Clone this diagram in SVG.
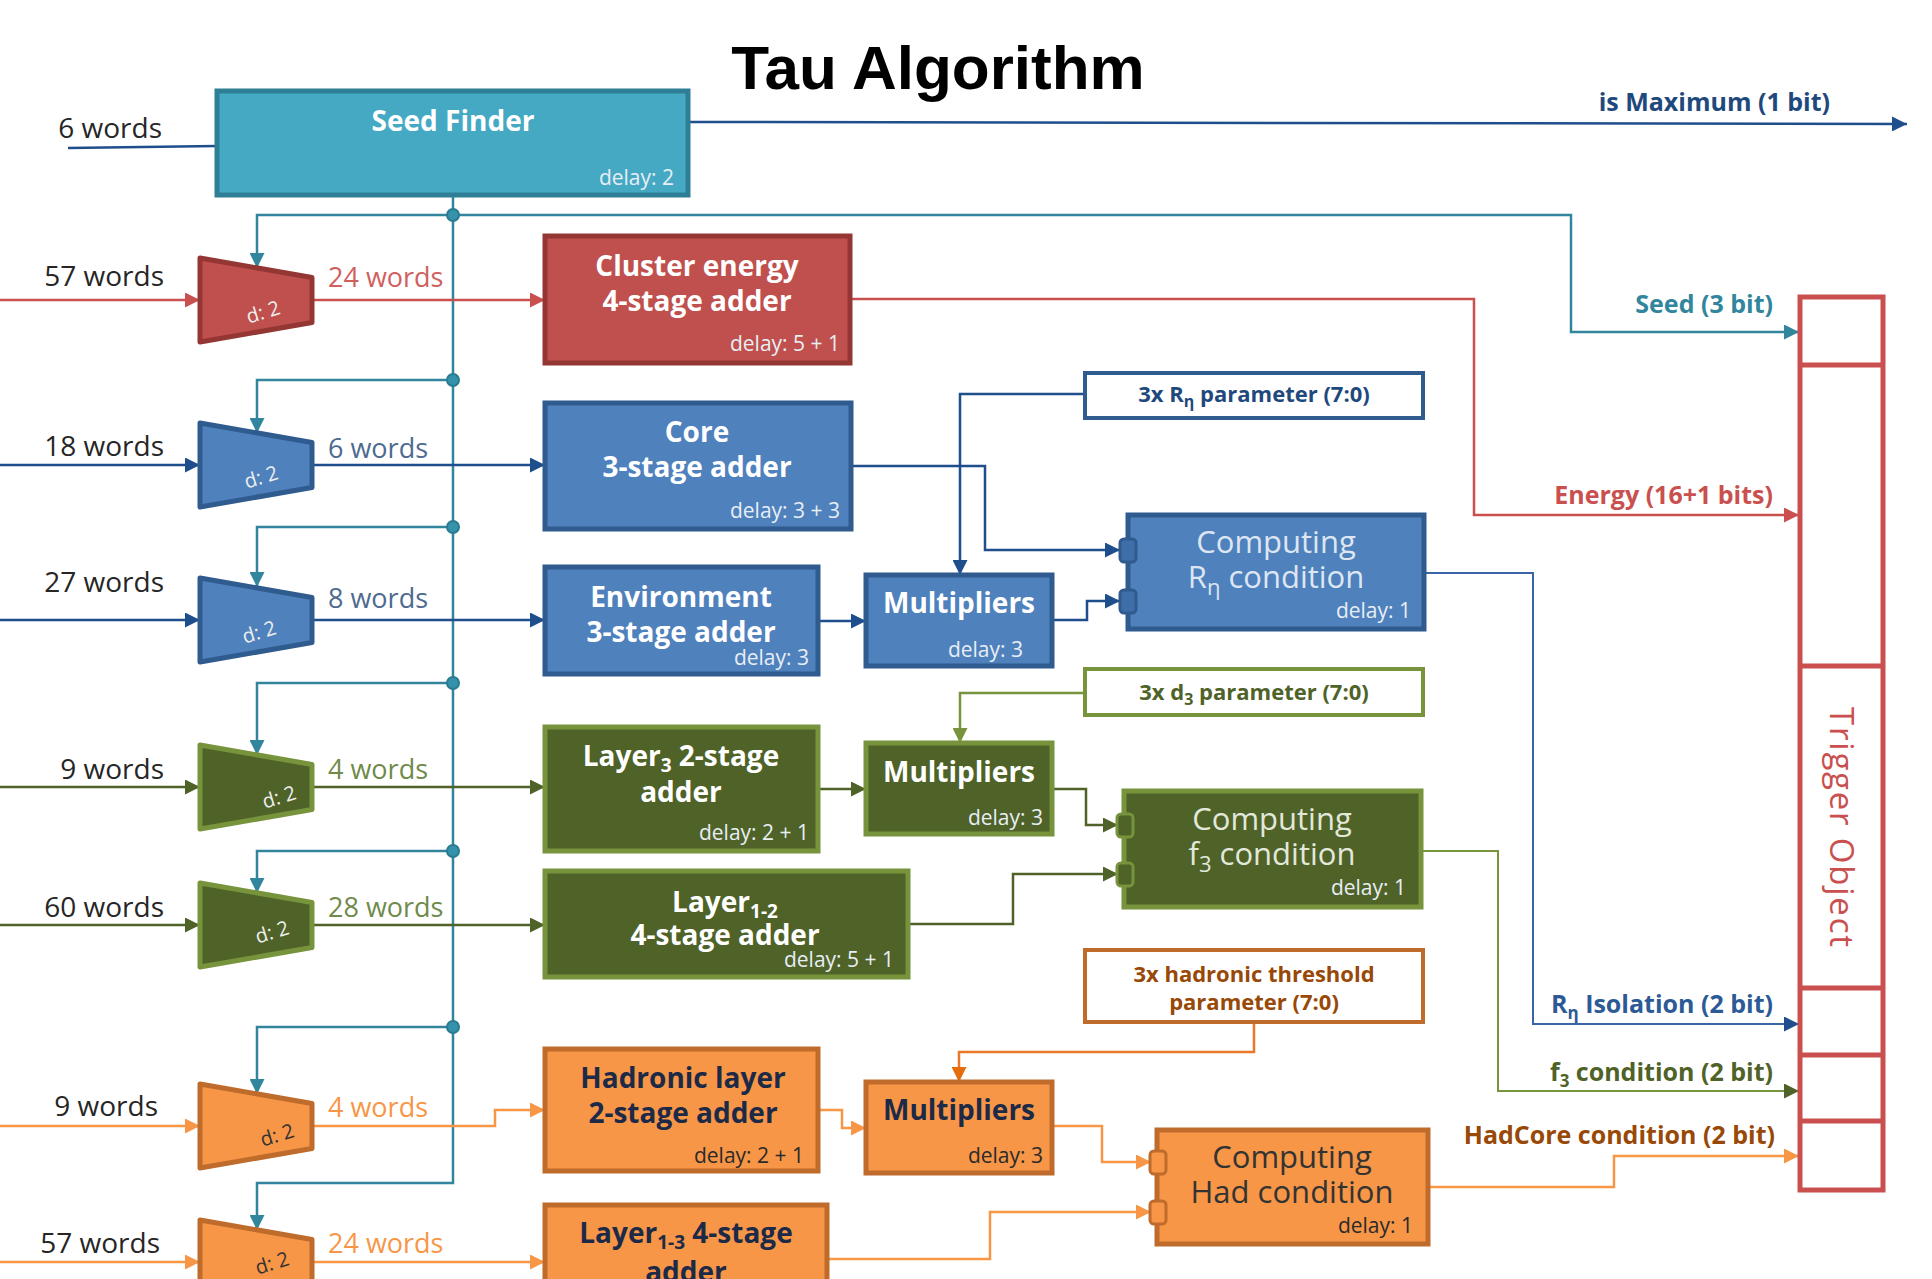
<svg xmlns="http://www.w3.org/2000/svg" width="1932" height="1279" viewBox="0 0 1932 1279">
  <style>
    text { font-family: "Open Sans", "Liberation Sans", sans-serif; }
    .title { font-family: "Liberation Sans", Arial, sans-serif; font-weight: bold; font-size: 62px; fill: #000; }
    .in { font-size: 28px; fill: #262626; text-anchor: end; }
    .mid { font-size: 27px; }
    .hd { font-size: 28px; font-weight: bold; fill: #fff; text-anchor: middle; }
    .hd-dk { fill: #1c2a48; }
    .dl { font-size: 21px; fill: #e8eef5; text-anchor: end; }
    .dl-dk { fill: #2a2a2a; }
    .cmp { font-size: 31px; text-anchor: middle; }
    .prm { font-size: 22px; font-weight: bold; text-anchor: middle; }
    .out { font-size: 25px; font-weight: bold; text-anchor: end; }
    .dd { font-size: 20px; text-anchor: middle; }
    .box { stroke-width: 5; }
    .ln { fill: none; stroke-width: 2.5; }
    .thin { fill: none; stroke-width: 2; }
    .teal { stroke: #31859c; }
    .red { stroke: #c9504f; }
    .blue { stroke: #1f4e8c; }
    .lblue { stroke: #3a64a8; }
    .green { stroke: #4f6228; }
    .lgreen { stroke: #77933c; }
    .orange { stroke: #f79646; }
    .had { stroke: #e8782a; }
    .dot { fill: #3592ab; stroke: #2a7a90; stroke-width: 2; }
    .port { stroke-width: 3; }
  </style>
  <defs>
    <marker id="a-teal" viewBox="0 0 10 10" refX="10" refY="5" markerWidth="15" markerHeight="15" markerUnits="userSpaceOnUse" orient="auto"><path d="M0,0 L10,5 L0,10 z" fill="#31859c"/></marker>
    <marker id="a-red" viewBox="0 0 10 10" refX="10" refY="5" markerWidth="15" markerHeight="15" markerUnits="userSpaceOnUse" orient="auto"><path d="M0,0 L10,5 L0,10 z" fill="#c9504f"/></marker>
    <marker id="a-blue" viewBox="0 0 10 10" refX="10" refY="5" markerWidth="15" markerHeight="15" markerUnits="userSpaceOnUse" orient="auto"><path d="M0,0 L10,5 L0,10 z" fill="#1f4e8c"/></marker>
    <marker id="a-green" viewBox="0 0 10 10" refX="10" refY="5" markerWidth="15" markerHeight="15" markerUnits="userSpaceOnUse" orient="auto"><path d="M0,0 L10,5 L0,10 z" fill="#4f6228"/></marker>
    <marker id="a-lgreen" viewBox="0 0 10 10" refX="10" refY="5" markerWidth="15" markerHeight="15" markerUnits="userSpaceOnUse" orient="auto"><path d="M0,0 L10,5 L0,10 z" fill="#77933c"/></marker>
    <marker id="a-orange" viewBox="0 0 10 10" refX="10" refY="5" markerWidth="15" markerHeight="15" markerUnits="userSpaceOnUse" orient="auto"><path d="M0,0 L10,5 L0,10 z" fill="#f79646"/></marker>
    <marker id="a-had" viewBox="0 0 10 10" refX="10" refY="5" markerWidth="15" markerHeight="15" markerUnits="userSpaceOnUse" orient="auto"><path d="M0,0 L10,5 L0,10 z" fill="#e46c0a"/></marker>
  </defs>

  <rect width="1932" height="1279" fill="#fff"/>

  <text class="title" x="938" y="89" text-anchor="middle">Tau Algorithm</text>

  <!-- connectors -->
  <g id="connectors">
    <!-- seed finder distribution bus -->
    <path class="ln teal" d="M453,195 V1183 H257 V1230" marker-end="url(#a-teal)"/>
    <path class="ln teal" d="M453,215 H257 V268" marker-end="url(#a-teal)"/>
    <path class="ln teal" d="M453,215 H1571 V332 H1799" marker-end="url(#a-teal)"/>
    <path class="ln teal" d="M453,380 H257 V433" marker-end="url(#a-teal)"/>
    <path class="ln teal" d="M453,527 H257 V587" marker-end="url(#a-teal)"/>
    <path class="ln teal" d="M453,683 H257 V755" marker-end="url(#a-teal)"/>
    <path class="ln teal" d="M453,851 H257 V893" marker-end="url(#a-teal)"/>
    <path class="ln teal" d="M453,1027 H257 V1094" marker-end="url(#a-teal)"/>
    <circle class="dot" cx="453" cy="215" r="6"/>
    <circle class="dot" cx="453" cy="380" r="6"/>
    <circle class="dot" cx="453" cy="527" r="6"/>
    <circle class="dot" cx="453" cy="683" r="6"/>
    <circle class="dot" cx="453" cy="851" r="6"/>
    <circle class="dot" cx="453" cy="1027" r="6"/>

    <!-- seed finder in / out -->
    <path class="ln blue" d="M68,148 L217,146"/>
    <path class="ln blue" d="M688,122 L1907,124" marker-end="url(#a-blue)"/>

    <!-- cluster energy path -->
    <path class="ln red" d="M0,300 H200" marker-end="url(#a-red)"/>
    <path class="ln red" d="M312,300 H545" marker-end="url(#a-red)"/>
    <path class="ln red" d="M850,299 H1474 V515 H1799" marker-end="url(#a-red)"/>

    <!-- core / environment path -->
    <path class="ln blue" d="M0,465 H200" marker-end="url(#a-blue)"/>
    <path class="ln blue" d="M312,465 H545" marker-end="url(#a-blue)"/>
    <path class="ln blue" d="M0,620 H200" marker-end="url(#a-blue)"/>
    <path class="ln blue" d="M312,620 H545" marker-end="url(#a-blue)"/>
    <path class="ln blue" d="M851,466 H985 V550 H1120" marker-end="url(#a-blue)"/>
    <path class="ln blue" d="M818,621 H866" marker-end="url(#a-blue)"/>
    <path class="ln blue" d="M1085,394 H960 V575" marker-end="url(#a-blue)"/>
    <path class="ln blue" d="M1052,620 H1087 V601 H1120" marker-end="url(#a-blue)"/>
    <path class="thin lblue" d="M1424,573 H1533 V1024 H1799" marker-end="url(#a-blue)"/>

    <!-- layer 3 / layer 1-2 path -->
    <path class="ln green" d="M0,787 H200" marker-end="url(#a-green)"/>
    <path class="ln green" d="M312,787 H545" marker-end="url(#a-green)"/>
    <path class="ln green" d="M0,925 H200" marker-end="url(#a-green)"/>
    <path class="ln green" d="M312,925 H545" marker-end="url(#a-green)"/>
    <path class="ln green" d="M818,789 H866" marker-end="url(#a-green)"/>
    <path class="ln lgreen" d="M1085,693 H960 V743" marker-end="url(#a-lgreen)"/>
    <path class="ln green" d="M1052,789 H1086 V825 H1118" marker-end="url(#a-green)"/>
    <path class="ln green" d="M908,924 H1013 V874 H1118" marker-end="url(#a-green)"/>
    <path class="thin lgreen" d="M1421,851 H1498 V1091 H1799" marker-end="url(#a-green)"/>

    <!-- hadronic path -->
    <path class="ln orange" d="M0,1126 H200" marker-end="url(#a-orange)"/>
    <path class="ln orange" d="M312,1126 H495 V1110 H545" marker-end="url(#a-orange)"/>
    <path class="ln orange" d="M0,1262 H200" marker-end="url(#a-orange)"/>
    <path class="ln orange" d="M312,1262 H545" marker-end="url(#a-orange)"/>
    <path class="ln orange" d="M818,1110 H842 V1128 H866" marker-end="url(#a-orange)"/>
    <path class="ln had" d="M1254,1022 V1052 H959 V1082" marker-end="url(#a-had)"/>
    <path class="ln orange" d="M1052,1126 H1102 V1162 H1151" marker-end="url(#a-orange)"/>
    <path class="ln orange" d="M827,1259 H990 V1212 H1151" marker-end="url(#a-orange)"/>
    <path class="ln orange" d="M1428,1187 H1614 V1156 H1799" marker-end="url(#a-orange)"/>
  </g>

  <!-- input widths -->
  <g id="input-labels">
    <text class="in" x="162" y="138">6 words</text>
    <text class="in" x="164" y="286">57 words</text>
    <text class="in" x="164" y="456">18 words</text>
    <text class="in" x="164" y="592">27 words</text>
    <text class="in" x="164" y="779">9 words</text>
    <text class="in" x="164" y="917">60 words</text>
    <text class="in" x="158" y="1116">9 words</text>
    <text class="in" x="160" y="1253">57 words</text>
  </g>

  <!-- reduced widths after the selectors -->
  <g id="mid-labels">
    <text class="mid" x="328" y="287" fill="#d0605e">24 words</text>
    <text class="mid" x="328" y="458" fill="#4d6a90">6 words</text>
    <text class="mid" x="328" y="608" fill="#4d6a90">8 words</text>
    <text class="mid" x="328" y="779" fill="#6f8a4a">4 words</text>
    <text class="mid" x="328" y="917" fill="#6f8a4a">28 words</text>
    <text class="mid" x="328" y="1117" fill="#f79646">4 words</text>
    <text class="mid" x="328" y="1253" fill="#f79646">24 words</text>
  </g>

  <!-- output field labels -->
  <g id="output-labels">
    <text class="out" x="1830" y="111" fill="#1f497d">is Maximum (1 bit)</text>
    <text class="out" x="1773" y="313" fill="#31859c">Seed (3 bit)</text>
    <text class="out" x="1773" y="504" fill="#c9504f">Energy (16+1 bits)</text>
    <text class="out" x="1773" y="1013" fill="#2c5a96">R<tspan font-size="17" dy="6">η</tspan><tspan dy="-6"> Isolation (2 bit)</tspan></text>
    <text class="out" x="1773" y="1081" fill="#4f6228">f<tspan font-size="17" dy="6">3</tspan><tspan dy="-6"> condition (2 bit)</tspan></text>
    <text class="out" x="1775" y="1144" fill="#984807">HadCore condition (2 bit)</text>
  </g>

  <!-- seed finder -->
  <g id="seed-finder">
    <rect class="box" x="217" y="91" width="471" height="104" fill="#45a9c4" stroke="#2e7f96"/>
    <text class="hd" x="453" y="131">Seed Finder</text>
    <text class="dl" x="674" y="185">delay: 2</text>
  </g>

  <!-- word selectors -->
  <g id="sel-cluster">
    <path class="box" d="M200,258 L312,277.5 L312,322.5 L200,342 Z" fill="#c0504d" stroke="#943634" stroke-linejoin="round"/>
    <text class="dd" x="263" y="319" fill="#eee" transform="rotate(-17 263 312)">d: 2</text>
  </g>
  <g id="sel-core">
    <path class="box" d="M200,423 L312,442.5 L312,487.5 L200,507 Z" fill="#4f81bd" stroke="#2f5b8e" stroke-linejoin="round"/>
    <text class="dd" x="261" y="484" fill="#eee" transform="rotate(-17 261 477)">d: 2</text>
  </g>
  <g id="sel-env">
    <path class="box" d="M200,578 L312,597.5 L312,642.5 L200,662 Z" fill="#4f81bd" stroke="#2f5b8e" stroke-linejoin="round"/>
    <text class="dd" x="259" y="639" fill="#eee" transform="rotate(-17 259 632)">d: 2</text>
  </g>
  <g id="sel-layer3">
    <path class="box" d="M200,745 L312,764.5 L312,809.5 L200,829 Z" fill="#4f6228" stroke="#77933c" stroke-linejoin="round"/>
    <text class="dd" x="279" y="804" fill="#eee" transform="rotate(-17 279 797)">d: 2</text>
  </g>
  <g id="sel-layer12">
    <path class="box" d="M200,883 L312,902.5 L312,947.5 L200,967 Z" fill="#4f6228" stroke="#77933c" stroke-linejoin="round"/>
    <text class="dd" x="272" y="939" fill="#eee" transform="rotate(-17 272 932)">d: 2</text>
  </g>
  <g id="sel-had">
    <path class="box" d="M200,1084 L312,1103.5 L312,1148.5 L200,1168 Z" fill="#f79646" stroke="#be6b2c" stroke-linejoin="round"/>
    <text class="dd" x="277" y="1142" fill="#333" transform="rotate(-17 277 1135)">d: 2</text>
  </g>
  <g id="sel-layer13">
    <path class="box" d="M200,1220 L312,1239.5 L312,1284.5 L200,1304 Z" fill="#f79646" stroke="#be6b2c" stroke-linejoin="round"/>
    <text class="dd" x="272" y="1270" fill="#333" transform="rotate(-17 272 1263)">d: 2</text>
  </g>

  <!-- adders -->
  <g id="cluster-energy">
    <rect class="box" x="545" y="236" width="305" height="127" fill="#c0504d" stroke="#943634"/>
    <text class="hd" x="697" y="276">Cluster energy</text>
    <text class="hd" x="697" y="311">4-stage adder</text>
    <text class="dl" x="840" y="351">delay: 5 + 1</text>
  </g>
  <g id="core">
    <rect class="box" x="545" y="403" width="306" height="126" fill="#4f81bd" stroke="#2f5b8e"/>
    <text class="hd" x="697" y="442">Core</text>
    <text class="hd" x="697" y="477">3-stage adder</text>
    <text class="dl" x="840" y="518">delay: 3 + 3</text>
  </g>
  <g id="environment">
    <rect class="box" x="545" y="567" width="273" height="107" fill="#4f81bd" stroke="#2f5b8e"/>
    <text class="hd" x="681" y="607">Environment</text>
    <text class="hd" x="681" y="642">3-stage adder</text>
    <text class="dl" x="809" y="665">delay: 3</text>
  </g>
  <g id="layer3">
    <rect class="box" x="545" y="727" width="273" height="124" fill="#4f6228" stroke="#77933c"/>
    <text class="hd" x="681" y="766">Layer<tspan font-size="19" dy="6">3</tspan><tspan dy="-6"> 2-stage</tspan></text>
    <text class="hd" x="681" y="802">adder</text>
    <text class="dl" x="809" y="840">delay: 2 + 1</text>
  </g>
  <g id="layer12">
    <rect class="box" x="545" y="871" width="363" height="106" fill="#4f6228" stroke="#77933c"/>
    <text class="hd" x="725" y="912">Layer<tspan font-size="19" dy="6">1-2</tspan></text>
    <text class="hd" x="725" y="945">4-stage adder</text>
    <text class="dl" x="894" y="967">delay: 5 + 1</text>
  </g>
  <g id="hadronic-layer">
    <rect class="box" x="545" y="1049" width="273" height="122" fill="#f79646" stroke="#be6b2c"/>
    <text class="hd hd-dk" x="683" y="1088">Hadronic layer</text>
    <text class="hd hd-dk" x="683" y="1123">2-stage adder</text>
    <text class="dl dl-dk" x="804" y="1163">delay: 2 + 1</text>
  </g>
  <g id="layer13">
    <rect class="box" x="545" y="1205" width="282" height="110" fill="#f79646" stroke="#be6b2c"/>
    <text class="hd hd-dk" x="686" y="1243">Layer<tspan font-size="19" dy="6">1-3</tspan><tspan dy="-6"> 4-stage</tspan></text>
    <text class="hd hd-dk" x="686" y="1282">adder</text>
  </g>

  <!-- multipliers -->
  <g id="mult-iso">
    <rect class="box" x="866" y="575" width="186" height="91" fill="#4f81bd" stroke="#2f5b8e"/>
    <text class="hd" x="959" y="613">Multipliers</text>
    <text class="dl" x="1023" y="657">delay: 3</text>
  </g>
  <g id="mult-f3">
    <rect class="box" x="866" y="743" width="186" height="91" fill="#4f6228" stroke="#77933c"/>
    <text class="hd" x="959" y="782">Multipliers</text>
    <text class="dl" x="1043" y="825">delay: 3</text>
  </g>
  <g id="mult-had">
    <rect class="box" x="866" y="1082" width="186" height="91" fill="#f79646" stroke="#be6b2c"/>
    <text class="hd hd-dk" x="959" y="1120">Multipliers</text>
    <text class="dl dl-dk" x="1043" y="1163">delay: 3</text>
  </g>

  <!-- parameter inputs -->
  <g id="param-r">
    <rect x="1085" y="373" width="338" height="45" fill="#fff" stroke="#2f5b8e" stroke-width="4"/>
    <text class="prm" x="1254" y="402" fill="#1f497d">3x R<tspan font-size="16" dy="5">η</tspan><tspan dy="-5"> parameter (7:0)</tspan></text>
  </g>
  <g id="param-d3">
    <rect x="1085" y="669" width="338" height="46" fill="#fff" stroke="#77933c" stroke-width="4"/>
    <text class="prm" x="1254" y="700" fill="#4f6228">3x d<tspan font-size="16" dy="5">3</tspan><tspan dy="-5"> parameter (7:0)</tspan></text>
  </g>
  <g id="param-had">
    <rect x="1085" y="950" width="338" height="72" fill="#fff" stroke="#be6b2c" stroke-width="4"/>
    <text class="prm" x="1254" y="982" fill="#984807">3x hadronic threshold</text>
    <text class="prm" x="1254" y="1010" fill="#984807">parameter (7:0)</text>
  </g>

  <!-- condition blocks -->
  <g id="cond-r">
    <rect class="box" x="1128" y="515" width="296" height="114" fill="#4f81bd" stroke="#2f5b8e"/>
    <rect class="port" x="1120" y="539" width="16" height="23" rx="4" fill="#3f6fa8" stroke="#2f5b8e"/>
    <rect class="port" x="1120" y="590" width="16" height="23" rx="4" fill="#3f6fa8" stroke="#2f5b8e"/>
    <text class="cmp" x="1276" y="553" fill="#dde6f2">Computing</text>
    <text class="cmp" x="1276" y="588" fill="#dde6f2">R<tspan font-size="22" dy="7">η</tspan><tspan dy="-7"> condition</tspan></text>
    <text class="dl" x="1411" y="618">delay: 1</text>
  </g>
  <g id="cond-f3">
    <rect class="box" x="1124" y="791" width="297" height="116" fill="#4f6228" stroke="#77933c"/>
    <rect class="port" x="1117" y="814" width="16" height="23" rx="4" fill="#4f6228" stroke="#77933c"/>
    <rect class="port" x="1117" y="863" width="16" height="23" rx="4" fill="#4f6228" stroke="#77933c"/>
    <text class="cmp" x="1272" y="830" fill="#e2e8da">Computing</text>
    <text class="cmp" x="1272" y="865" fill="#e2e8da">f<tspan font-size="22" dy="7">3</tspan><tspan dy="-7"> condition</tspan></text>
    <text class="dl" x="1406" y="895">delay: 1</text>
  </g>
  <g id="cond-had">
    <rect class="box" x="1157" y="1130" width="271" height="114" fill="#f79646" stroke="#be6b2c"/>
    <rect class="port" x="1150" y="1151" width="16" height="23" rx="4" fill="#f79646" stroke="#be6b2c"/>
    <rect class="port" x="1150" y="1201" width="16" height="23" rx="4" fill="#f79646" stroke="#be6b2c"/>
    <text class="cmp" x="1292" y="1168" fill="#333">Computing</text>
    <text class="cmp" x="1292" y="1203" fill="#333">Had condition</text>
    <text class="dl dl-dk" x="1413" y="1233">delay: 1</text>
  </g>

  <!-- trigger object word -->
  <g id="trigger-object">
    <rect x="1800" y="297" width="83" height="893" fill="#fff" stroke="#c9504f" stroke-width="5"/>
    <path d="M1800,365 H1883 M1800,666 H1883 M1800,988 H1883 M1800,1055 H1883 M1800,1121 H1883" stroke="#c9504f" stroke-width="5"/>
    <text x="1830" y="827" font-size="33" fill="#c9504f" text-anchor="middle" transform="rotate(90 1830 827)" textLength="240" lengthAdjust="spacing">Trigger Object</text>
  </g>
</svg>
